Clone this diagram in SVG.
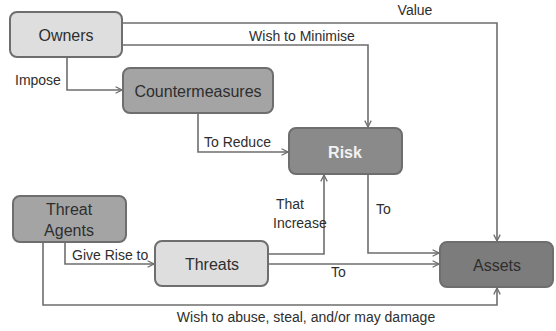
<svg xmlns="http://www.w3.org/2000/svg" width="556" height="331" viewBox="0 0 556 331">
<defs>
<style>
.box{stroke:#6e6e6e;stroke-width:2}
.light{fill:#dedede}
.mid{fill:#a4a4a4}
.dark{fill:#8a8a8a}
.darker{fill:#7c7c7c}
.nt{font-family:"Liberation Sans",Arial,sans-serif;font-size:16px;fill:#2e2e2e;text-anchor:middle;dominant-baseline:central}
.lb{font-family:"Liberation Sans",Arial,sans-serif;font-size:14px;fill:#2e2e2e}
.ln{fill:none;stroke:#6e6e6e;stroke-width:1.6}
</style>
<marker id="ah" viewBox="0 0 10 10" refX="9" refY="5" markerWidth="8" markerHeight="8" markerUnits="userSpaceOnUse" orient="auto">
<polyline points="1,1 9,5 1,9" fill="none" stroke="#6e6e6e" stroke-width="1.6"/>
</marker>
</defs>
<rect width="556" height="331" fill="#fff"/>
<g id="connectors">
<polyline class="ln" points="122,23 497,23 497,241" marker-end="url(#ah)"/>
<polyline class="ln" points="122,45 368,45 368,127" marker-end="url(#ah)"/>
<polyline class="ln" points="67,57 67,90 122,90" marker-end="url(#ah)"/>
<polyline class="ln" points="198,113 198,152 288,152" marker-end="url(#ah)"/>
<polyline class="ln" points="65,242 65,264 154,264" marker-end="url(#ah)"/>
<polyline class="ln" points="43,242 43,305 497,305 497,288" marker-end="url(#ah)"/>
<polyline class="ln" points="268,254 324,254 324,175" marker-end="url(#ah)"/>
<polyline class="ln" points="268,264 439,264" marker-end="url(#ah)"/>
<polyline class="ln" points="368,174 368,253 439,253" marker-end="url(#ah)"/>
<text class="lb" x="415" y="15" text-anchor="middle">Value</text>
<text class="lb" x="302" y="41" text-anchor="middle">Wish to Minimise</text>
<text class="lb" x="15" y="85">Impose</text>
<text class="lb" x="204" y="147">To Reduce</text>
<text class="lb" x="72" y="260">Give Rise to</text>
<text class="lb" x="276" y="209">That</text>
<text class="lb" x="273" y="228">Increase</text>
<text class="lb" x="376" y="214">To</text>
<text class="lb" x="331" y="277">To</text>
<text class="lb" x="306" y="322" text-anchor="middle">Wish to abuse, steal, and/or may damage</text>
</g>
<g id="owners"><rect class="box light" x="10" y="12" width="112" height="45" rx="7"/><text class="nt" x="66" y="35">Owners</text></g>
<g id="countermeasures"><rect class="box mid" x="123" y="68" width="150" height="45" rx="7"/><text class="nt" x="198" y="91">Countermeasures</text></g>
<g id="risk"><rect class="box dark" x="289" y="128" width="113" height="46" rx="7"/><text class="nt" x="345" y="152" style="fill:#f2f2f2;font-weight:bold">Risk</text></g>
<g id="threat-agents"><rect class="box mid" x="13" y="196" width="113" height="46" rx="7"/><text class="nt" x="69" y="209">Threat</text><text class="nt" x="69" y="230">Agents</text></g>
<g id="threats"><rect class="box light" x="155" y="241" width="113" height="45" rx="7"/><text class="nt" x="212" y="264">Threats</text></g>
<g id="assets"><rect class="box darker" x="440" y="242" width="113" height="45" rx="7"/><text class="nt" x="497" y="265">Assets</text></g>
</svg>
